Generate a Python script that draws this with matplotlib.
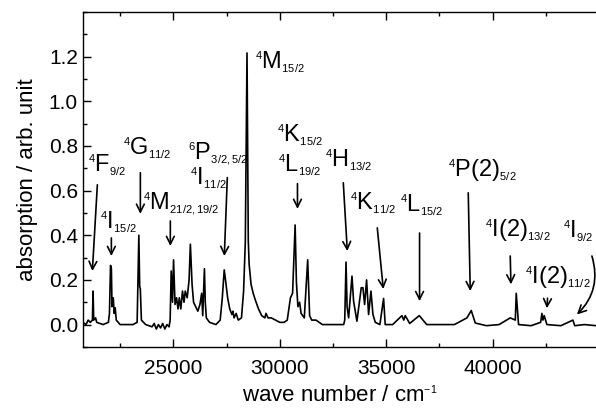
import numpy as np
import matplotlib
matplotlib.use("Agg")
import matplotlib.pyplot as plt
import matplotlib._mathtext as mathtext_impl
from matplotlib.ticker import MultipleLocator

plt.rcParams['font.family'] = ['Liberation Sans', 'DejaVu Sans']
plt.rcParams['mathtext.fontset'] = 'custom'
plt.rcParams['mathtext.rm'] = 'Liberation Sans'
plt.rcParams['mathtext.it'] = 'Liberation Sans:italic'
# smaller sub/superscripts, like the original figure
mathtext_impl.SHRINK_FACTOR = 0.47

# ------------------ spectrum ------------------
wavenumber = [20750, 20900, 21000, 21100, 21200, 21230, 21260, 21350, 21400, 21700,
              21950, 22000, 22050, 22090, 22120, 22180, 22220, 22270, 22320, 22500,
              22800, 23100, 23300, 23380, 23420, 23450, 23500, 23700, 24000, 24100,
              24200, 24300, 24400, 24500, 24600, 24700, 24800, 24850, 24900, 24960,
              25010, 25080, 25150, 25220, 25280, 25350, 25430, 25500, 25560, 25650,
              25740, 25800, 25880, 25950, 26050, 26150, 26250, 26330, 26380, 26460,
              26500, 26550, 26700, 27000, 27200, 27300, 27390, 27450, 27550, 27650,
              27750, 27800, 27850, 27950, 28050, 28200, 28300, 28380, 28460, 28520,
              28560, 28650, 28750, 28850, 29000, 29150, 29300, 29350, 29450, 29600,
              29800, 30000, 30200, 30350, 30500, 30600, 30720, 30780, 30850, 30930,
              31000, 31150, 31310, 31400, 31500, 31700, 32000, 32500, 33000, 33050,
              33110, 33160, 33232, 33390, 33465, 33622, 33825, 33904, 33982, 34076,
              34170, 34280, 34374, 34484, 34700, 34874, 34950, 35300, 35737, 35820,
              35892, 36100, 36550, 36900, 37500, 38200, 38789, 38991, 39179, 39700,
              40300, 40822, 41060, 41104, 41213, 41800, 42250, 42310, 42360, 42418,
              42545, 43200, 43766, 43850, 44300, 44850]
absorbance = [0.01, 0.0, 0.02, 0.01, 0.02, 0.15, 0.02, 0.03, 0.01, 0.0,
              0.01, 0.05, 0.265, 0.25, 0.08, 0.12, 0.05, 0.075, 0.02, 0.0,
              0.0, 0.0, 0.01, 0.40, 0.17, 0.16, 0.02, 0.0, -0.01, 0.005,
              -0.02, 0.0, -0.015, 0.005, -0.02, 0.0, -0.01, 0.02, 0.24, 0.10,
              0.29, 0.09, 0.12, 0.07, 0.12, 0.07, 0.15, 0.10, 0.15, 0.12,
              0.20, 0.36, 0.18, 0.10, 0.08, 0.06, 0.09, 0.14, 0.04, 0.25,
              0.10, 0.03, 0.01, 0.0, 0.02, 0.12, 0.245, 0.20, 0.12, 0.07,
              0.045, 0.06, 0.03, 0.05, 0.02, 0.03, 0.15, 0.37, 1.216, 0.375,
              0.27, 0.18, 0.14, 0.11, 0.07, 0.04, 0.03, 0.05, 0.03, 0.03,
              0.02, 0.01, 0.01, 0.02, 0.12, 0.14, 0.446, 0.19, 0.08, 0.10,
              0.05, 0.03, 0.29, 0.04, 0.02, 0.02, 0.0, 0.0, 0.0, 0.02,
              0.28, 0.08, 0.03, 0.217, 0.105, 0.015, 0.165, 0.165, 0.09, 0.20,
              0.045, 0.15, 0.045, 0.01, 0.0, 0.117, 0.0, 0.0, 0.04, 0.02,
              0.04, 0.005, 0.04, 0.0, 0.0, 0.0, 0.03, 0.063, 0.007, -0.005,
              0.0, 0.03, 0.02, 0.14, 0.0, -0.005, 0.01, 0.05, 0.02, 0.04,
              0.0, -0.005, 0.02, -0.005, 0.0, -0.005]

# ------------------ level labels: text, text pos, arrow tail, arrow head ------------------
labels = [
    (r'$\mathregular{^4F_{9/2}}$', 21009, 0.711, (21432, 0.626), (21197, 0.24)),
    (r'$\mathregular{^4G_{11/2}}$', 22652, 0.788, (23451, 0.68), (23451, 0.496)),
    (r'$\mathregular{^4I_{15/2}}$', 21573, 0.455, (22089, 0.388), (22089, 0.307)),
    (r'$\mathregular{^4M_{21/2,19/2}}$', 23592, 0.541, (24859, 0.464), (24859, 0.352)),
    (r'$\mathregular{^6P_{3/2,5/2}}$', 25704, 0.765, None, None),
    (r'$\mathregular{^4I_{11/2}}$', 25798, 0.653, (27535, 0.658), (27394, 0.307)),
    (r'$\mathregular{^4M_{15/2}}$', 28850, 1.174, None, None),
    (r'$\mathregular{^4K_{15/2}}$', 29883, 0.846, None, None),
    (r'$\mathregular{^4L_{19/2}}$', 29930, 0.711, (30830, 0.631), (30830, 0.518)),
    (r'$\mathregular{^4H_{13/2}}$', 32136, 0.734, (32982, 0.635), (33170, 0.329)),
    (r'$\mathregular{^4K_{11/2}}$', 33310, 0.541, (34578, 0.433), (34860, 0.159)),
    (r'$\mathregular{^4L_{15/2}}$', 35658, 0.532, (36564, 0.41), (36564, 0.105)),
    (r'$\mathregular{^4P(2)_{5/2}}$', 37911, 0.689, (38850, 0.59), (38944, 0.15)),
    (r'$\mathregular{^4I(2)_{13/2}}$', 39649, 0.419, (40822, 0.307), (40855, 0.18)),
    (r'$\mathregular{^4I(2)_{11/2}}$', 41526, 0.208, (42573, 0.118), (42545, 0.073)),
    (r'$\mathregular{^4I_{9/2}}$', 43310, 0.419, (44658, 0.307), (43954, 0.045)),
]

fig = plt.figure(figsize=(5.96, 4.12), dpi=100)
ax = fig.add_axes([0.139, 0.158, 0.861, 0.813])

ax.plot(wavenumber, absorbance, color='black', lw=1.2)

for i, (txt, tx, ty, tail, head) in enumerate(labels):
    ax.text(tx, ty, txt, fontsize=17, ha='left', va='center')
    if tail is None:
        continue
    rad = 'arc3,rad=-0.3' if i == len(labels) - 1 else 'arc3,rad=0'
    ax.annotate('', xy=head, xytext=tail,
                arrowprops=dict(arrowstyle='->', lw=1.2, color='black',
                                mutation_scale=14, connectionstyle=rad,
                                shrinkA=0, shrinkB=0))

ax.set_xlim(20750, 44850)
ax.set_ylim(-0.1, 1.4)
ax.xaxis.set_major_locator(MultipleLocator(5000))
ax.xaxis.set_minor_locator(MultipleLocator(2500))
ax.set_yticks(np.arange(0, 1.21, 0.2))
ax.yaxis.set_minor_locator(MultipleLocator(0.1))
ax.yaxis.set_major_formatter(plt.FuncFormatter(lambda v, p: f"{v:.1f}"))
ax.tick_params(which='both', direction='in', top=True, right=False, labelsize=15, width=1.0)
ax.tick_params(which='major', length=6)
ax.tick_params(axis='x', which='major', pad=9)
ax.tick_params(which='minor', length=3)
ax.spines['right'].set_visible(False)
for s in ['left', 'top', 'bottom']:
    ax.spines[s].set_linewidth(1.0)

ax.set_xlabel(r'wave number / cm$\mathregular{^{-1}}$', fontsize=16, labelpad=5)
ax.set_ylabel('absorption / arb. unit', fontsize=16, labelpad=8)

fig.savefig("out.png", dpi=100)
